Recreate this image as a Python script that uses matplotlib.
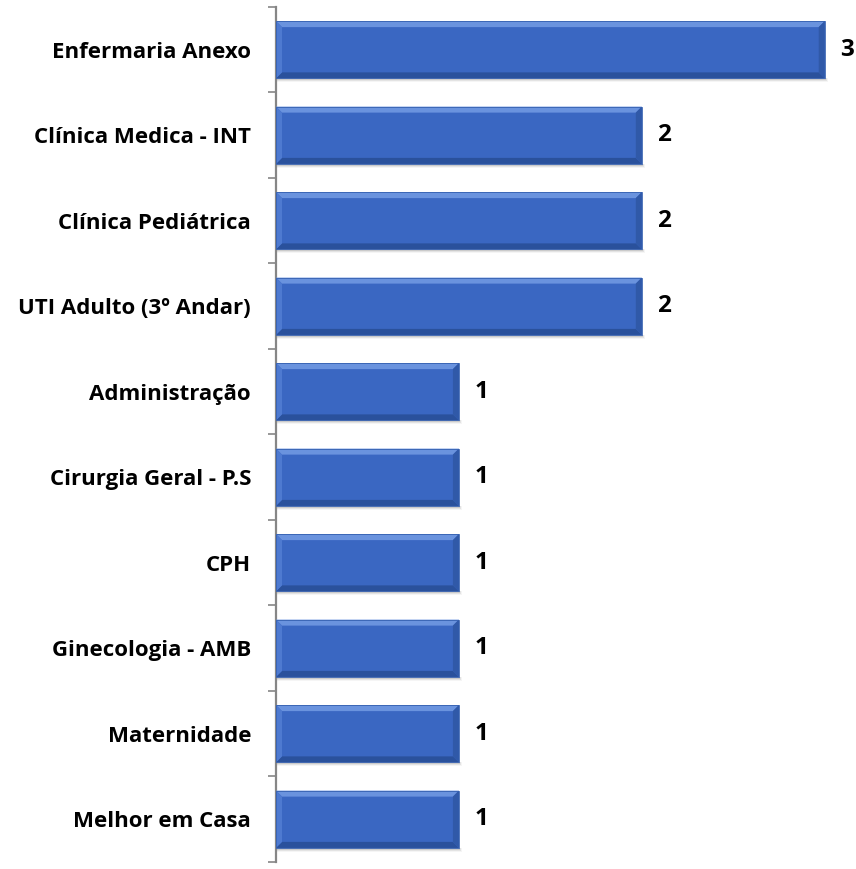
import matplotlib.pyplot as plt
from matplotlib.patches import Polygon, Rectangle
import numpy as np

setores = ['Enfermaria Anexo', 'Clínica Medica - INT', 'Clínica Pediátrica',
           'UTI Adulto (3º Andar)', 'Administração', 'Cirurgia Geral - P.S',
           'CPH', 'Ginecologia - AMB', 'Maternidade', 'Melhor em Casa']
quantidade = [3, 2, 2, 2, 1, 1, 1, 1, 1, 1]

plt.rcParams['font.family'] = ['Open Sans', 'DejaVu Sans']

fig = plt.figure(figsize=(8.56, 8.69), dpi=100)
ax = fig.add_axes([276 / 856, 7 / 869, 567 / 856, 855 / 869])

xmax = 3.1
ax.set_xlim(0, xmax)
ax.set_ylim(len(setores) - 0.5, -0.5)

# bevel size in data units (about 6 px)
px_x = xmax / 567
px_y = len(setores) / 855
bx, by = 6 * px_x, 6 * px_y
h = 0.67

for i, v in enumerate(quantidade):
    top, bot = i - h / 2, i + h / 2
    # soft shadow under the bar
    for k, a in enumerate([0.10, 0.07, 0.04]):
        ax.add_patch(Rectangle((0, bot), v + (k + 1) * px_x, (k + 2) * px_y,
                               color='black', alpha=a, lw=0, zorder=1))
    ax.add_patch(Rectangle((0, top), v, h, facecolor='#3A67C2', edgecolor='none', zorder=2))
    ax.add_patch(Polygon([(0, top), (v, top), (v - bx, top + by), (bx, top + by)],
                         closed=True, facecolor='#6A93DE', edgecolor='none', zorder=3))
    ax.add_patch(Polygon([(0, bot), (v, bot), (v - bx, bot - by), (bx, bot - by)],
                         closed=True, facecolor='#2A519C', edgecolor='none', zorder=3))
    ax.add_patch(Polygon([(0, top), (bx, top + by), (bx, bot - by), (0, bot)],
                         closed=True, facecolor='#4E7AD0', edgecolor='none', zorder=3))
    ax.add_patch(Polygon([(v, top), (v - bx, top + by), (v - bx, bot - by), (v, bot)],
                         closed=True, facecolor='#3059A8', edgecolor='none', zorder=3))
    ax.add_patch(Rectangle((0, top), v, h, facecolor='none', edgecolor='#3560B0',
                           lw=0.6, zorder=4))
    ax.text(v + 0.085, i, str(v), ha='left', va='center', fontsize=17.5,
            fontweight='bold', color='black', clip_on=False)

ax.set_yticks(range(len(setores)))
ax.set_yticklabels(setores, fontsize=16, fontweight='bold')
ax.tick_params(axis='y', which='major', length=0, pad=18)
ax.set_yticks(np.arange(-0.5, len(setores), 1), minor=True)
ax.tick_params(axis='y', which='minor', length=6, width=1.2, color='#868686')
ax.set_xticks([])

for s in ['top', 'right', 'bottom']:
    ax.spines[s].set_visible(False)
ax.spines['left'].set_color('#868686')
ax.spines['left'].set_linewidth(1.6)

plt.savefig('out.png', dpi=100)
